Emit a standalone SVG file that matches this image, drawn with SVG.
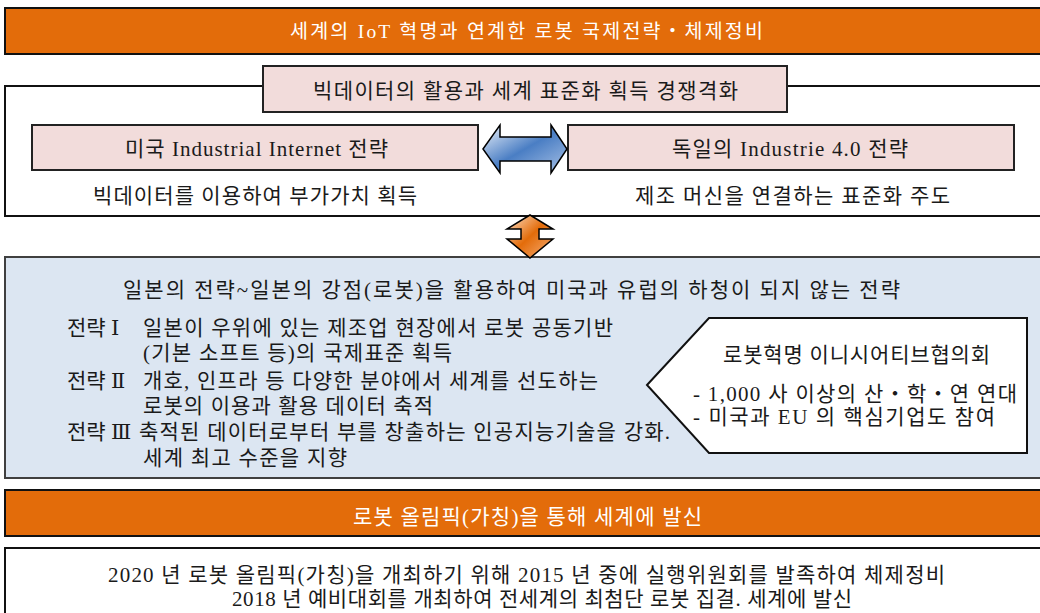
<svg xmlns="http://www.w3.org/2000/svg" width="1040" height="613" viewBox="0 0 1040 613">
<style>
text{font-family:"Liberation Serif","DejaVu Serif","Noto Sans CJK KR",serif;font-size:21px;fill:#1a1a1a;dominant-baseline:central}
.w{fill:#ffffff}
.t{font-size:19.5px}
.bar{fill:#e36c0a;stroke:#111;stroke-width:2}
.pink{fill:#f2dcdb;stroke:#222;stroke-width:2}
.plain{fill:#ffffff;stroke:#111;stroke-width:2}
.blue{fill:#dce6f2;stroke:#404040;stroke-width:2}
.arrow{stroke:#000;stroke-width:1.5;stroke-linejoin:miter}
</style>
<defs>
<linearGradient id="gBlue" x1="0" y1="0" x2="1" y2="1">
<stop offset="0" stop-color="#eef3fa"/>
<stop offset="0.5" stop-color="#4a7ec4"/>
<stop offset="1" stop-color="#a9c2e6"/>
</linearGradient>
<linearGradient id="gOrange" x1="0" y1="0" x2="1" y2="1">
<stop offset="0" stop-color="#fde3cc"/>
<stop offset="0.5" stop-color="#e36c0a"/>
<stop offset="1" stop-color="#f6b07a"/>
</linearGradient>
</defs>

<g id="title">
<rect class="bar" x="5" y="8" width="1040" height="46"/>
<text class="w t" x="290" y="31" textLength="473">세계의 IoT 혁명과 연계한 로봇 국제전략・체제정비</text>
</g>

<g id="bigdata-frame">
<rect class="plain" x="5" y="86" width="1040" height="130"/>
</g>

<g id="bigdata-header">
<rect class="pink" x="263" y="66" width="524" height="46"/>
<text x="313" y="91" textLength="425">빅데이터의 활용과 세계 표준화 획득 경쟁격화</text>
</g>

<g id="usa">
<rect class="pink" x="32" y="125" width="446" height="45"/>
<text x="125" y="149" textLength="263">미국 Industrial Internet 전략</text>
<text x="93" y="196" textLength="324">빅데이터를 이용하여 부가가치 획득</text>
</g>

<g id="germany">
<rect class="pink" x="568" y="125" width="446" height="45"/>
<text x="672" y="149" textLength="236">독일의 Industrie 4.0 전략</text>
<text x="635" y="196" textLength="315">제조 머신을 연결하는 표준화 주도</text>
</g>

<g id="japan">
<rect class="blue" x="5" y="257" width="1040" height="221"/>
<text x="123" y="290" textLength="777">일본의 전략~일본의 강점(로봇)을 활용하여 미국과 유럽의 하청이 되지 않는 전략</text>
<text x="67" y="328">전략 Ⅰ</text>
<text x="143" y="328" textLength="470">일본이 우위에 있는 제조업 현장에서 로봇 공동기반</text>
<text x="143" y="353" textLength="309">(기본 소프트 등)의 국제표준 획득</text>
<text x="67" y="381">전략 Ⅱ</text>
<text x="143" y="381" textLength="455">개호, 인프라 등 다양한 분야에서 세계를 선도하는</text>
<text x="143" y="406" textLength="290">로봇의 이용과 활용 데이터 축적</text>
<text x="67" y="432">전략 Ⅲ</text>
<text x="139" y="432" textLength="531">축적된 데이터로부터 부를 창출하는 인공지능기술을 강화.</text>
<text x="143" y="458" textLength="204">세계 최고 수준을 지향</text>
</g>

<g id="initiative">
<polygon class="plain" points="647,385 709,318 1027,318 1027,453 709,453"/>
<text x="723" y="355" textLength="267">로봇혁명 이니시어티브협의회</text>
<text x="693" y="394" textLength="324">- 1,000 사 이상의 산・학・연 연대</text>
<text x="693" y="417" textLength="302">- 미국과 EU 의 핵심기업도 참여</text>
</g>

<g id="olympics">
<rect class="bar" x="5" y="490" width="1040" height="46"/>
<text class="w" x="353" y="517" textLength="349">로봇 올림픽(가칭)을 통해 세계에 발신</text>
</g>

<g id="olympics-detail">
<rect class="plain" x="5" y="548" width="1040" height="80"/>
<text x="108" y="575" textLength="837">2020 년 로봇 올림픽(가칭)을 개최하기 위해 2015 년 중에 실행위원회를 발족하여 체제정비</text>
<text x="232" y="599" textLength="620">2018 년 예비대회를 개최하여 전세계의 최첨단 로봇 집결. 세계에 발신</text>
</g>

<g id="connectors">
<polygon class="arrow" fill="url(#gBlue)" points="483,149 500,125 500,137 551,137 551,125 567,149 551,173 551,161 500,161 500,173"/>
<polygon class="arrow" fill="url(#gOrange)" points="530,215 553,229 539,229 539,239 553,239 530,258 507,239 521,239 521,229 507,229"/>
</g>
</svg>
